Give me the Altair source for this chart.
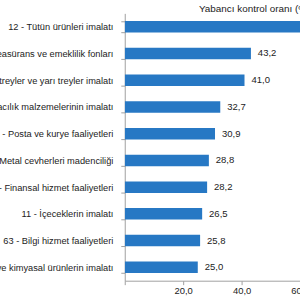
import altair as alt
import pandas as pd

categories = [
    "12 - Tütün ürünleri imalatı",
    "65 - Sigorta, reasürans ve emeklilik fonları",
    "29 - Motorlu kara taşıtı, treyler ve yarı treyler imalatı",
    "21 - Temel eczacılık ürünlerinin ve eczacılık malzemelerinin imalatı",
    "53 - Posta ve kurye faaliyetleri",
    "07 - Metal cevherleri madenciliği",
    "64 - Finansal hizmet faaliyetleri",
    "11 - İçeceklerin imalatı",
    "63 - Bilgi hizmet faaliyetleri",
    "20 - Kimyasalların ve kimyasal ürünlerin imalatı",
]
values = [64.9, 43.2, 41.0, 32.7, 30.9, 28.8, 28.2, 26.5, 25.8, 25.0]
axis_title = "Yabancı kontrol oranı (%)"

df = pd.DataFrame({"kategori": categories, "oran": values})
df["etiket"] = [f"{v:.1f}".replace(".", ",") for v in values]

FONT = "Liberation Sans"
BLUE = "#2778C4"
GREY = "#A0A0A0"

y_enc = alt.Y(
    "kategori:N",
    sort=categories,
    title=None,
    scale=alt.Scale(paddingInner=0.57, paddingOuter=0.285),
    axis=alt.Axis(
        labelFont=FONT, labelFontSize=9.35, labelColor="#222222",
        labelLimit=600, labelPadding=8, tickBand="extent",
        tickSize=4, tickColor=GREY, domainColor=GREY, grid=False,
    ),
)
x_enc = alt.X(
    "oran:Q",
    title=None,
    scale=alt.Scale(domain=[0, 60], nice=False, zero=True),
    axis=alt.Axis(
        values=[0, 20, 40, 60],
        labelExpr="datum.value == 0 ? '' : replace(format(datum.value, '.1f'), '.', ',')",
        labelFont=FONT, labelFontSize=9.5, labelColor="#222222",
        tickSize=4, tickColor=GREY, domainColor=GREY, grid=False,
        labelPadding=1, labelOverlap=False, labelFlush=False,
    ),
)

bars = alt.Chart(df).mark_bar(color=BLUE, clip=True).encode(y=y_enc, x=x_enc)
texts = alt.Chart(df).mark_text(
    align="left", baseline="middle", dx=7, font=FONT, fontSize=9.6, color="#222222"
).encode(y=alt.Y("kategori:N", sort=categories), x="oran:Q", text="etiket:N")

chart = (bars + texts).properties(
    width=177,
    height=270,
    autosize=alt.AutoSizeParams(type="none"),
    padding={"left": 126, "top": 12, "right": 0, "bottom": 18},
    title=alt.TitleParams(
        axis_title, anchor="start", frame="group", dx=75, offset=-2,
        baseline="top", dy=3,
        font=FONT, fontSize=10, fontWeight="normal", color="#222222",
    ),
).configure_view(stroke=None)

chart.save("out.html", embed_options={"renderer": "svg", "actions": False})
